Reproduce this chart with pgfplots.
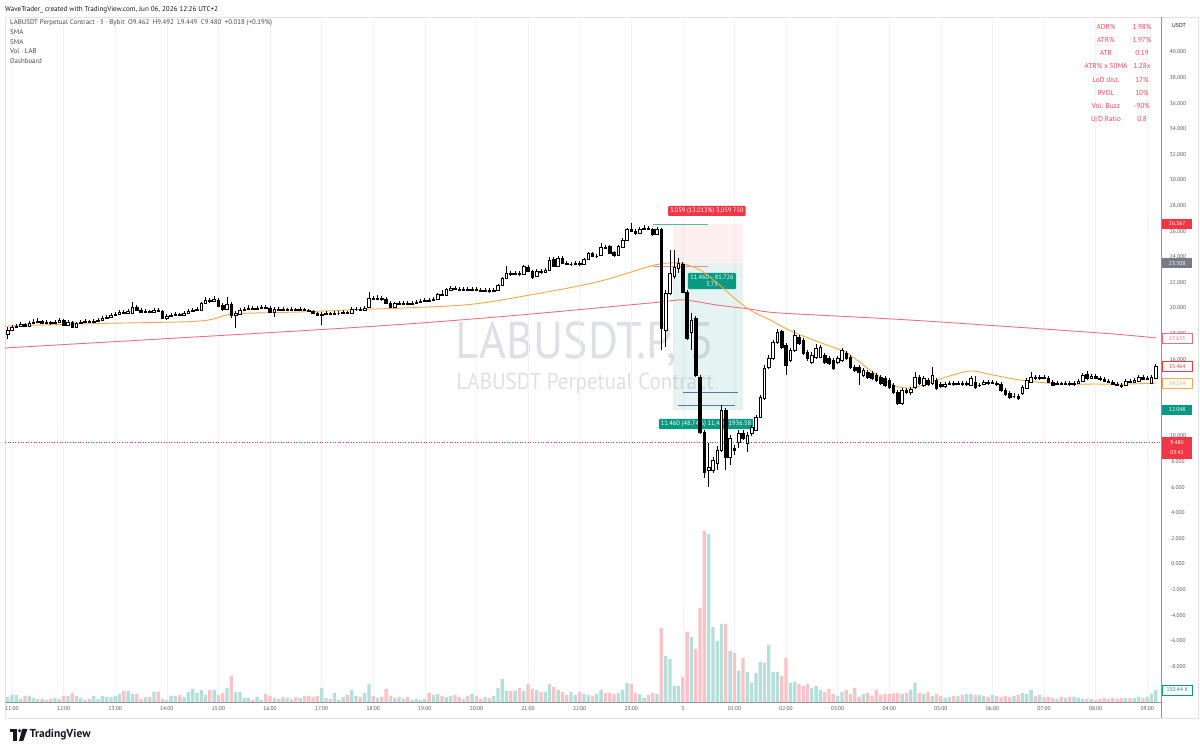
\documentclass[border=0pt]{standalone}
\usepackage{pgfplots}
\pgfplotsset{compat=1.18}
\usepackage{pgfplotstable}
\usepackage{fontspec}
\setmainfont{PT Sans}
\definecolor{tvred}{RGB}{242,54,69}
\definecolor{tvgreen}{RGB}{8,153,129}
\definecolor{tvgray}{RGB}{120,123,134}
\definecolor{volup}{RGB}{181,224,217}
\definecolor{voldn}{RGB}{251,195,199}
\definecolor{smaO}{RGB}{247,166,72}
\definecolor{smaR}{RGB}{238,112,128}
\definecolor{txt}{RGB}{19,23,34}
\definecolor{legtxt}{RGB}{70,73,82}
\definecolor{axtxt}{RGB}{80,83,94}
\definecolor{gridc}{RGB}{240,243,250}
\definecolor{framec}{RGB}{224,227,235}
\definecolor{wm}{RGB}{222,224,229}
\definecolor{steel}{RGB}{90,120,160}
\definecolor{dash}{RGB}{242,70,85}
\newcommand\tickfont{\fontsize{5.5}{6}\selectfont}
\newcommand\lblfont{\fontsize{5.6}{6}\selectfont}

\pgfplotstableread{
i o h l c v
-1 17.97 18.52 17.58 18.28 63
0 18.28 18.67 18.20 18.52 88
1 18.52 18.75 18.44 18.59 88
2 18.59 18.91 18.52 18.75 38
3 18.75 18.83 18.52 18.59 75
4 18.59 18.98 18.52 18.83 75
5 18.83 19.14 18.75 18.91 50
6 18.91 19.22 18.83 18.98 38
7 18.98 19.06 18.75 18.83 38
8 18.83 19.06 18.75 18.91 25
9 18.91 18.98 18.67 18.83 38
10 18.83 19.06 18.75 18.91 50
11 18.91 19.22 18.83 19.06 38
12 19.06 19.14 18.59 18.67 75
13 18.67 19.06 18.59 18.91 75
14 18.91 18.98 18.44 18.52 113
15 18.52 18.91 18.44 18.83 75
16 18.83 19.06 18.75 18.91 50
17 18.91 19.14 18.83 18.98 25
18 18.98 19.06 18.83 18.91 38
19 18.91 19.14 18.83 18.98 75
20 18.98 19.22 18.91 19.06 38
21 19.06 19.38 18.98 19.22 75
22 19.22 19.45 19.14 19.30 63
23 19.30 19.61 19.22 19.45 63
24 19.45 19.69 19.38 19.53 75
25 19.53 19.84 19.45 19.69 100
26 19.69 19.84 19.53 19.61 138
27 19.61 19.92 19.53 19.77 138
28 19.61 20.47 19.53 20.08 100
29 20.08 20.23 19.77 19.84 100
30 19.84 20.00 19.61 19.69 38
31 19.69 19.92 19.61 19.77 63
32 19.77 19.84 19.61 19.69 63
33 19.69 20.00 19.61 19.84 125
34 19.84 20.00 19.69 19.77 125
35 19.77 19.84 19.14 19.22 38
36 19.22 19.53 19.06 19.38 25
37 19.38 19.61 19.30 19.45 75
38 19.45 19.69 19.38 19.53 75
39 19.53 19.61 19.38 19.45 88
40 19.45 19.77 19.38 19.61 63
41 19.61 19.92 19.53 19.77 125
42 19.77 20.00 19.69 19.84 163
43 19.84 20.08 19.77 19.92 113
44 19.84 20.47 19.77 20.39 150
45 20.39 20.86 20.31 20.63 88
46 20.63 20.78 20.39 20.55 150
47 20.55 20.94 20.47 20.70 150
48 20.63 20.78 20.08 20.16 88
49 20.23 20.39 19.77 19.92 113
50 19.92 20.86 19.84 20.31 175
51 20.31 20.47 19.22 19.45 325
52 19.45 19.77 18.44 19.61 125
53 19.53 20.00 19.45 19.84 125
54 19.84 20.08 19.77 19.92 50
55 19.92 20.23 19.84 20.00 50
56 20.00 20.16 19.84 19.92 25
57 19.92 20.16 19.84 20.00 63
58 20.00 20.23 19.92 20.08 25
59 20.08 20.23 19.92 20.00 100
60 20.00 20.16 19.61 19.69 75
61 19.69 20.08 19.30 19.92 50
62 19.92 20.08 19.77 19.84 38
63 19.84 20.08 19.77 19.92 63
64 19.92 20.00 19.77 19.84 50
65 19.84 20.08 19.77 19.92 38
66 19.92 20.00 19.77 19.84 63
67 19.84 20.08 19.77 19.92 50
68 19.92 20.00 19.77 19.84 75
69 19.84 19.92 19.69 19.77 75
70 19.77 19.84 19.53 19.61 63
71 19.61 19.69 19.38 19.45 75
72 19.45 19.69 18.67 19.53 175
73 19.53 19.77 19.45 19.61 50
74 19.61 19.69 19.45 19.53 38
75 19.53 19.77 19.45 19.61 113
76 19.61 19.77 19.45 19.61 25
77 19.61 19.84 19.53 19.69 63
78 19.69 19.77 19.53 19.61 88
79 19.61 20.08 19.53 19.92 150
80 19.92 20.08 19.77 19.92 75
81 19.92 20.08 19.77 19.84 63
82 19.84 20.16 19.77 20.00 113
83 20.08 21.25 20.00 20.78 225
84 20.78 20.94 20.63 20.70 75
85 20.70 21.02 20.63 20.78 50
86 20.78 20.94 20.55 20.70 63
87 20.70 20.86 20.31 20.39 163
88 20.39 20.55 20.00 20.08 75
89 20.08 20.47 20.00 20.39 50
90 20.39 20.55 20.23 20.31 63
91 20.31 20.55 20.23 20.39 38
92 20.39 20.55 20.23 20.31 63
93 20.31 20.55 20.23 20.39 25
94 20.39 20.63 20.31 20.47 38
95 20.47 20.70 20.39 20.55 25
96 20.55 20.78 20.47 20.63 38
97 20.63 20.78 20.47 20.55 113
98 20.63 20.86 20.55 20.70 88
99 20.70 21.17 20.63 21.09 100
100 21.09 21.41 20.94 21.02 75
101 21.02 21.56 20.94 21.48 63
102 21.41 21.72 21.33 21.56 75
103 21.56 21.72 21.41 21.48 88
104 21.48 21.64 21.33 21.41 63
105 21.41 21.64 21.33 21.48 38
106 21.48 21.64 21.33 21.41 75
107 21.41 21.64 21.33 21.48 100
108 21.48 21.64 21.33 21.41 75
109 21.41 21.56 21.25 21.33 38
110 21.33 21.56 21.25 21.41 63
111 21.41 21.56 21.17 21.33 50
112 21.33 21.56 21.25 21.41 75
113 21.41 21.88 21.33 21.80 175
114 21.80 22.42 21.72 22.34 288
115 22.34 23.28 22.27 22.73 138
116 22.73 22.89 22.50 22.66 138
117 22.66 22.89 22.58 22.73 138
118 22.73 22.89 22.50 22.66 175
119 22.66 23.36 22.58 23.28 138
120 23.20 23.36 22.81 22.89 225
121 22.89 22.97 22.27 22.42 163
122 22.50 23.05 22.42 22.89 150
123 22.89 23.05 22.66 22.81 125
124 22.81 23.13 22.73 22.97 125
125 22.97 23.98 22.89 23.75 225
126 23.83 23.98 23.20 23.28 188
127 23.28 24.06 23.20 23.91 150
128 23.91 24.06 23.44 23.52 125
129 23.52 23.67 23.36 23.44 88
130 23.44 23.59 23.28 23.44 125
131 23.44 23.67 23.36 23.52 88
132 23.52 23.67 23.28 23.44 125
133 23.44 23.91 23.36 23.83 100
134 23.83 24.38 23.75 24.30 88
135 24.30 24.38 23.98 24.06 75
136 24.06 24.22 23.91 24.06 100
137 24.14 25.08 24.06 24.77 150
138 24.77 24.92 24.61 24.69 113
139 24.84 24.92 24.22 24.30 113
140 24.38 24.45 23.98 24.14 100
141 24.14 24.92 24.06 24.84 113
142 24.77 25.47 24.69 25.31 150
143 25.31 26.25 25.23 26.17 238
144 26.17 26.64 25.94 26.02 225
145 26.02 26.17 25.70 25.86 113
146 25.86 26.33 25.78 26.17 100
147 26.17 26.48 26.09 26.25 50
148 26.25 26.41 26.09 26.17 88
149 26.17 26.25 25.63 25.78 113
150 25.78 26.33 25.70 26.17 100
151 26.17 26.25 16.72 18.44 925
152 18.28 21.41 16.95 21.17 575
153 21.17 24.53 21.02 22.73 538
154 22.50 24.53 22.27 23.20 200
155 23.13 23.91 22.73 23.52 200
156 23.44 23.59 21.17 21.25 313
157 21.25 21.41 17.50 17.66 875
158 18.13 19.61 16.72 19.06 813
159 19.22 19.38 14.61 14.77 663
160 14.61 14.77 10.16 10.31 1175
161 10.31 10.47 6.72 7.19 2138
162 7.34 9.45 6.02 7.58 2100
163 7.34 8.36 7.11 8.13 938
164 7.89 9.22 7.34 8.91 763
165 8.91 12.42 8.75 12.03 975
166 12.03 12.19 7.34 8.36 975
167 8.36 10.08 7.73 9.84 638
168 9.06 9.30 8.52 8.91 613
169 9.53 10.47 9.06 10.23 388
170 10.23 10.47 9.69 9.84 550
171 9.45 10.31 8.75 10.08 375
172 10.23 10.86 10.00 10.70 238
173 10.47 11.64 10.39 11.48 363
174 11.48 13.20 11.41 13.05 500
175 12.97 15.55 12.81 15.31 488
176 15.39 16.33 15.23 16.09 713
177 16.09 17.50 15.94 17.34 375
178 17.34 18.36 17.19 18.13 375
179 18.20 18.28 16.80 16.95 325
180 17.11 17.27 14.77 15.55 550
181 15.94 16.88 15.78 16.72 238
182 16.72 18.28 16.56 17.89 250
183 17.73 17.89 17.11 17.27 225
184 17.50 17.66 16.33 16.48 200
185 16.56 16.72 15.86 16.09 225
186 15.78 16.56 15.63 16.33 175
187 16.17 17.19 16.02 16.88 200
188 16.17 17.11 16.09 16.95 150
189 16.33 16.48 15.63 15.78 125
190 16.09 16.25 15.55 15.70 163
191 15.94 16.09 15.16 15.31 100
192 15.78 16.25 15.63 16.09 75
193 15.94 16.88 15.78 16.72 125
194 16.48 16.64 15.94 16.09 150
195 16.17 16.33 15.23 15.39 100
196 15.39 15.55 15.00 15.16 175
197 15.39 15.55 13.98 15.00 63
198 14.77 15.31 14.61 15.16 100
199 15.00 15.16 14.45 14.61 113
200 14.92 15.08 14.38 14.53 75
201 14.77 14.92 14.22 14.38 150
202 14.61 14.77 13.98 14.14 88
203 14.53 14.69 13.83 13.98 100
204 14.38 14.53 13.67 13.83 100
205 13.98 14.14 13.28 13.44 113
206 13.44 13.59 12.42 12.58 113
207 12.58 13.75 12.42 13.59 100
208 13.59 13.75 13.28 13.44 113
209 13.44 13.83 13.20 13.67 150
210 13.83 15.00 13.67 14.61 238
211 14.61 14.77 13.98 14.14 113
212 13.98 14.69 13.83 14.53 100
213 14.38 14.53 13.91 14.06 125
214 14.14 15.39 13.98 14.77 75
215 14.38 14.53 13.59 13.75 100
216 14.06 14.22 13.75 13.91 75
217 13.91 14.22 13.75 14.06 50
218 14.06 14.30 13.98 14.14 63
219 14.14 14.30 13.91 14.06 75
220 14.06 14.30 13.98 14.14 75
221 14.14 14.30 13.91 14.06 88
222 14.06 14.30 13.91 14.14 100
223 13.98 14.69 13.91 14.53 100
224 14.22 14.69 13.67 13.83 88
225 13.98 14.14 13.83 13.98 88
226 14.06 14.38 13.98 14.22 75
227 14.22 14.38 13.98 14.14 63
228 14.14 14.38 14.06 14.22 88
229 14.14 14.30 13.91 14.06 75
230 14.06 14.22 13.44 13.59 63
231 13.59 13.75 13.13 13.28 75
232 13.36 13.52 12.89 13.05 63
233 13.13 13.36 12.97 13.13 75
234 13.13 13.28 12.81 12.97 88
235 13.36 13.98 13.20 13.83 113
236 13.75 14.53 13.67 14.38 100
237 14.22 15.00 14.14 14.61 150
238 14.61 14.77 14.38 14.53 75
239 14.53 14.77 14.38 14.61 88
240 14.61 14.77 14.45 14.53 63
241 14.53 14.69 14.14 14.22 63
242 14.22 14.38 13.91 13.98 50
243 14.06 14.30 13.98 14.14 38
244 14.14 14.22 13.98 14.06 63
245 14.06 14.30 13.98 14.14 50
246 14.14 14.30 13.91 14.06 63
247 14.06 14.30 13.91 14.14 63
248 14.14 14.45 14.06 14.30 50
249 14.30 14.92 14.22 14.77 38
250 14.84 15.08 14.38 14.53 38
251 14.53 14.84 14.45 14.69 38
252 14.69 14.84 14.45 14.53 25
253 14.53 14.69 14.30 14.45 38
254 14.45 14.61 14.22 14.30 50
255 14.30 14.45 14.14 14.22 38
256 14.22 14.38 13.98 14.06 50
257 14.06 14.22 13.91 13.98 38
258 13.98 14.14 13.75 13.91 50
259 13.98 14.45 13.91 14.30 50
260 14.30 14.45 14.14 14.22 50
261 14.22 14.53 14.14 14.38 50
262 14.30 14.77 14.22 14.61 63
263 14.61 14.77 14.38 14.45 50
264 14.45 14.69 14.38 14.53 63
265 14.14 14.77 14.06 14.61 100
266 14.53 15.63 14.45 15.46 150.44
}\candles

\pgfdeclareplotmark{candle}{%
  \pgfsetbuttcap
  \pgfsetlinewidth{0.7pt}%
  \pgfsetstrokecolor{black}%
  \pgfpathmoveto{\pgfpoint{0pt}{\cLo pt}}%
  \pgfpathlineto{\pgfpoint{0pt}{\cHi pt}}%
  \pgfusepath{stroke}%
  \ifdim\cBody pt<0pt
    \pgfsetfillcolor{black}%
  \else
    \pgfsetfillcolor{white}%
  \fi
  \pgfpathrectangle{\pgfpoint{-1.3pt}{0pt}}{\pgfpoint{2.6pt}{\cBody pt}}%
  \pgfusepath{fill,stroke}%
}

\begin{document}
\begin{tikzpicture}[x=1pt,y=1pt]
\fill[white] (0,0) rectangle (1200,751);
% watermark
\node[text=wm, font=\fontsize{46}{50}\selectfont, yscale=1.12] at (585,407) {LABUSDT.P, 5};
\node[text=wm, font=\fontsize{21}{24}\selectfont, yscale=1.1] at (585,367) {LABUSDT Perpetual Contract};
% frame
\draw[framec, line width=0.6pt] (5,33) rectangle (1198,734);

\begin{axis}[
  at={(5pt,49pt)}, anchor=south west,
  x=4.3pt, y=12.8pt,
  xmin=-1.628, xmax=267.21, ymin=-10.78, ymax=42.73,
  axis line style={draw=none},
  major tick length=0pt,
  xtick={0,12,...,264},
  xticklabels={11:00,12:00,13:00,14:00,15:00,16:00,17:00,18:00,19:00,20:00,21:00,22:00,23:00,3,01:00,02:00,03:00,04:00,05:00,06:00,07:00,08:00,09:00},
  xmajorgrids, grid style={gridc, line width=0.6pt},
  ytick={-8,-6,...,40},
  yticklabel pos=right,
  ticklabel style={font=\tickfont, text=axtxt},
  yticklabel style={anchor=center, xshift=17pt, /pgf/number format/fixed, /pgf/number format/fixed zerofill, /pgf/number format/precision=3},
  xticklabel style={anchor=center, yshift=-7pt},
  /pgf/number format/assume math mode=true,
]
% position tool
\fill[tvred, opacity=0.07] (axis cs:153.7,23.508) rectangle (axis cs:170,26.567);
\fill[tvgreen, opacity=0.10] (axis cs:153.7,12.048) rectangle (axis cs:170,23.508);
\draw[tvgreen!70, line width=0.6pt] (axis cs:149.1,26.567) -- (axis cs:161.9,26.567);
\draw[tvred!60, line width=0.6pt] (axis cs:149.1,23.25) -- (axis cs:161.9,23.25);
\draw[steel, line width=0.6pt] (axis cs:156,13.44) -- (axis cs:168.8,13.44);
\draw[steel, line width=0.6pt] (axis cs:154.9,12.42) -- (axis cs:168.1,12.42);
\draw[tvred, line width=0.6pt, dash pattern=on 1pt off 1.6pt] (axis cs:-1.628,9.48) -- (axis cs:267.21,9.48);
\node[fill=tvred, text=white, font=\fontsize{6.4}{7}\selectfont, inner xsep=2pt, inner ysep=2pt, rounded corners=1pt] at (axis cs:161.6,27.58) {3.059 (13.013\%) 3,059 750};
\node[fill=tvgreen, text=white, font=\fontsize{6.4}{7.4}\selectfont, align=center, inner xsep=2.5pt, inner ysep=2pt, rounded corners=1pt] at (axis cs:162.8,22.11) {11.460 - 81.726\\3.75};
\node[fill=tvgreen, text=white, font=\fontsize{6.5}{7}\selectfont, inner xsep=2pt, inner ysep=2pt, rounded corners=1pt] at (axis cs:161.4,10.94) {11.460 (48.74\%) 11,460 1936.58};
% candles
\addplot[only marks, mark=candle,
  visualization depends on={12.8*(\thisrow{c}-\thisrow{o}) \as \cBody},
  visualization depends on={12.8*(\thisrow{h}-\thisrow{o}) \as \cHi},
  visualization depends on={12.8*(\thisrow{l}-\thisrow{o}) \as \cLo},
] table[x=i, y=o] {\candles};
% SMAs
\addplot[smaR, line width=0.9pt, smooth] coordinates {(-1.6,16.88) (77.9,18.44) (112.8,19.30) (148.4,20.39) (156,20.63) (164,20.23) (171.6,19.92) (178.6,19.61) (208.8,19.06) (253,18.05) (266,17.66)};
\addplot[smaO, line width=0.9pt, smooth] coordinates {(-1.6,18.59) (20.5,18.79) (43.7,18.98) (51.4,19.53) (67,19.69) (77.9,19.84) (104.9,20.23) (120.5,21.02) (136,22.03) (147.7,23.20) (150.7,23.44) (155.3,23.52) (160,22.97) (164,21.95) (167.7,20.86) (171.6,19.84) (176.3,19.06) (181.6,18.13) (189.5,17.11) (194.2,16.48) (199.5,15.16) (204.9,13.98) (208.1,13.75) (210.5,13.83) (215.1,14.38) (220.5,14.92) (223.5,15.08) (228.1,14.77) (234.4,14.38) (243.7,14.06) (251.4,14.06) (259.3,14.06) (266,14.14)};
\end{axis}

% volume
\begin{axis}[
  at={(5pt,49pt)}, anchor=south west,
  x=4.3pt, y=0.08pt,
  xmin=-1.628, xmax=267.21, ymin=0, ymax=8562.5,
  hide axis,
]
\addplot[ybar, bar width=3.3pt, bar shift=0pt, draw=none, fill=volup,
  restrict expr to domain={\thisrow{c}-\thisrow{o}}{0:100}] table[x=i, y=v] {\candles};
\addplot[ybar, bar width=3.3pt, bar shift=0pt, draw=none, fill=voldn,
  restrict expr to domain={\thisrow{c}-\thisrow{o}}{-100:-0.0001}] table[x=i, y=v] {\candles};
\end{axis}

% axis lines
\draw[tvgray!80, line width=0.6pt] (1161,33) -- (1161,734);
\draw[tvgray!80, line width=0.6pt] (5,49) -- (1161,49);

% right labels
\tikzset{rl/.style={minimum width=30pt, minimum height=10pt, inner sep=0pt, anchor=west, font=\lblfont}}
\node[rl, fill=tvred, text=white] at (1162,527.1) {26.567};
\node[rl, fill=tvgray, text=white] at (1162,487.9) {23.508};
\node[rl, fill=white, draw=smaR, text=smaR, line width=0.6pt] at (1162,412.7) {17.633};
\node[rl, fill=white, draw=tvred, text=tvred, line width=0.6pt] at (1162,384.9) {15.464};
\node[rl, fill=white, draw=smaO, text=smaO, line width=0.6pt] at (1162,367.9) {14.134};
\node[rl, fill=tvgreen, text=white] at (1162,341.2) {12.048};
\fill[tvred] (1162,292) rectangle (1192,314);
\node[font=\lblfont, text=white] at (1177,308) {9.480};
\node[font=\lblfont, text=white] at (1177,298) {03:42};
\node[rl, fill=white, draw=tvgreen, text=tvgreen, line width=0.6pt] at (1162,61) {150.44 K};
\node[font=\fontsize{5.8}{6}\selectfont, text=txt] at (1179,726) {USDT};

% header
\node[anchor=west, inner sep=0, font=\fontsize{7.1}{8}\selectfont, text=txt] at (5,741) {WaveTrader\_ created with TradingView.com, Jun 06, 2026 12:26 UTC+2};
\begin{scope}[every node/.style={anchor=west, inner sep=0, font=\fontsize{6.9}{8}\selectfont, text=legtxt}]
\node at (10,728) {LABUSDT Perpetual Contract · 5 · Bybit\enspace O9.462\enspace H9.492\enspace L9.449\enspace C9.480\enspace +0.018 (+0.19\%)};
\node at (10,719) {SMA};
\node at (10,709) {SMA};
\node at (10,700) {Vol · LAB};
\node at (10,690) {Dashboard};
\end{scope}

% dashboard
\begin{scope}[every node/.style={inner sep=0, font=\fontsize{7.2}{8}\selectfont, text=dash}]
\node at (1106,724) {ADR\%};        \node at (1142,724) {1.98\%};
\node at (1106,711) {ATR\%};        \node at (1142,711) {1.97\%};
\node at (1106,698) {ATR};          \node at (1142,698) {0.19};
\node at (1106,685) {ATR\% x 50MA}; \node at (1142,685) {1.28x};
\node at (1106,671) {LoD dist.};    \node at (1142,671) {17\%};
\node at (1106,658) {RVOL};         \node at (1142,658) {10\%};
\node at (1106,645) {Vol. Buzz};    \node at (1142,645) {-90\%};
\node at (1106,632) {U/D Ratio};    \node at (1142,632) {0.8};
\end{scope}

% logo
\fill[txt] (10,18.5) rectangle (16.8,22);
\fill[txt] (13.3,10) rectangle (16.8,22);
\fill[txt] (19.6,20.2) circle (1.7);
\fill[txt] (22.2,22) -- (27.4,22) -- (23.2,10) -- (19,10) -- cycle;
\node[anchor=west, inner sep=0, font=\fontsize{11.5}{12}\selectfont\bfseries, text=txt] at (29.5,16) {TradingView};
\end{tikzpicture}
\end{document}
